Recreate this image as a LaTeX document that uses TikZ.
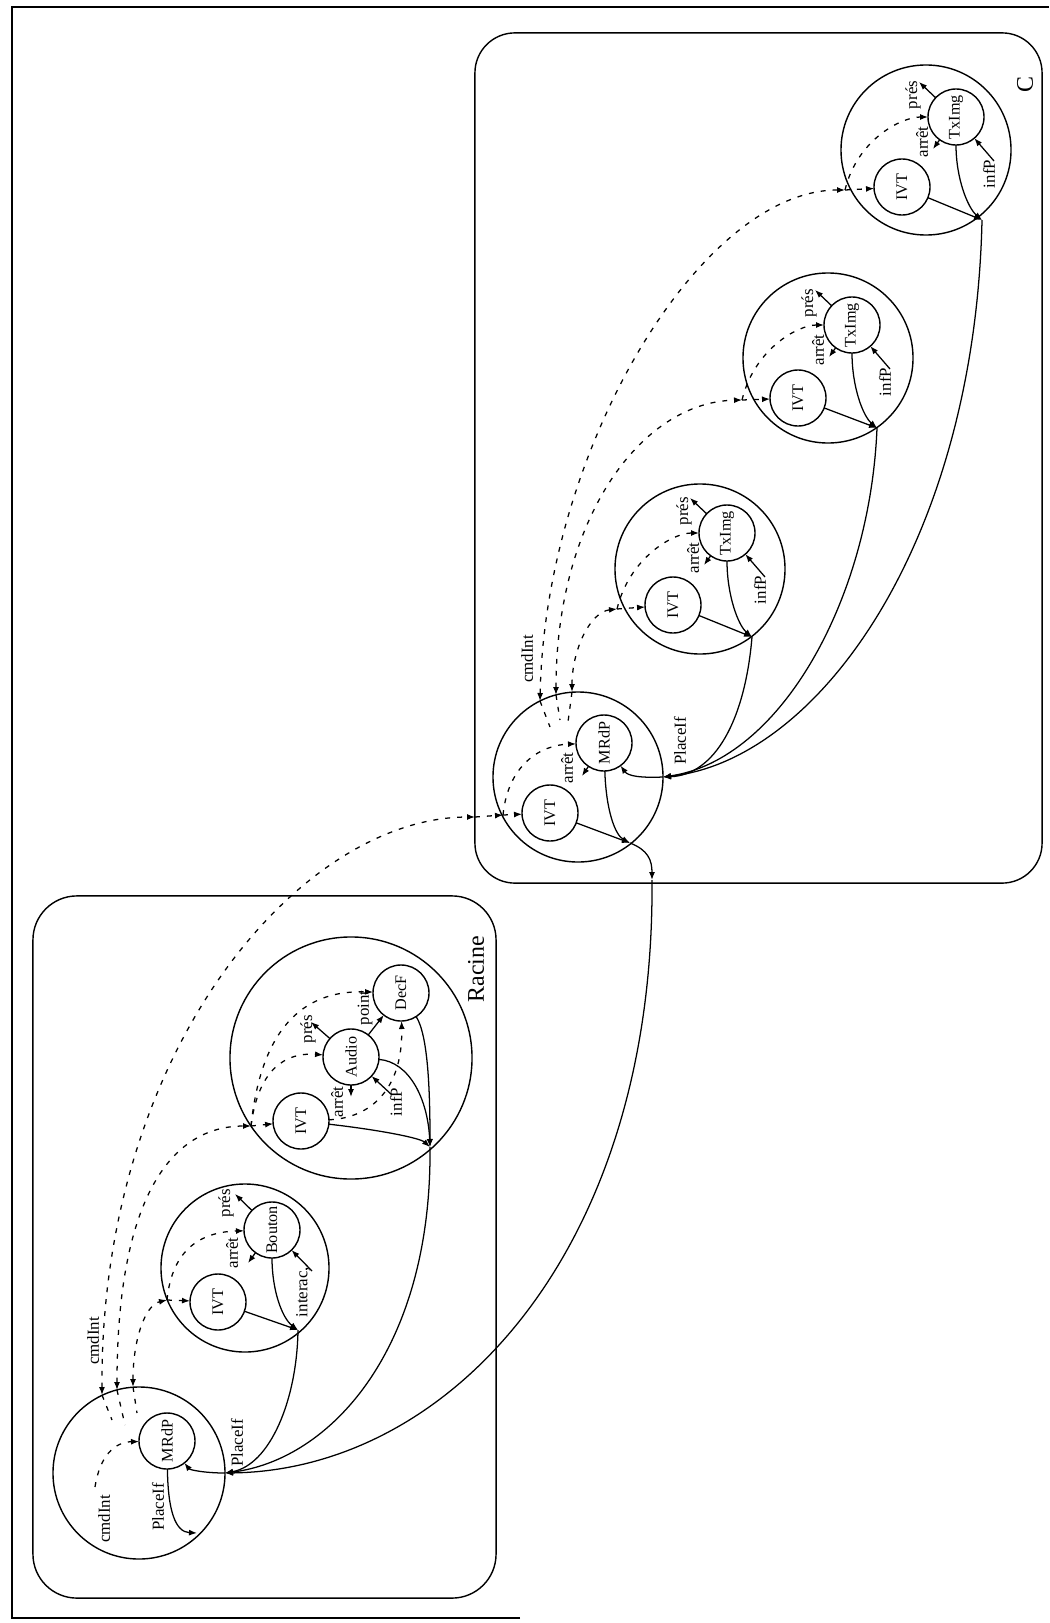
\documentclass[tikz,border=0pt]{standalone}
\usepackage{fontspec}
\setmainfont{Liberation Serif}
\usepackage{tikz}
\usetikzlibrary{arrows.meta, calc}

\newcommand{\vt}[1]{\rotatebox{90}{#1}}

\begin{document}
\begin{tikzpicture}[
    x=0.025cm, y=-0.025cm,
    every node/.style={inner sep=0pt, outer sep=0pt},
    boxc/.style={rectangle, draw, line width=1pt, rounded corners=1.1cm},
    grp/.style={circle, draw, line width=1pt},
    comp/.style={circle, draw, line width=1pt, minimum size=1.4cm, font=\fontsize{11.5}{12}\selectfont},
    lbl/.style={rotate=90, font=\fontsize{12}{13}\selectfont},
    big/.style={rotate=90, font=\fontsize{17}{19}\selectfont},
    arr/.style={-{Latex[length=2mm, width=1.5mm]}, line width=0.9pt},
    dsh/.style={-{Latex[length=2mm, width=1.5mm]}, line width=0.9pt, dash pattern=on 3.5pt off 5pt},
    dline/.style={line width=0.9pt, dash pattern=on 3.5pt off 5pt},
    dbl/.style={arrows={Latex[length=2mm, width=1.5mm]-Latex[length=2mm, width=1.5mm]}, line width=0.9pt, dash pattern=on 3.5pt off 5pt}
]
\path[fill=white] (0,0) rectangle (1049,1623);
\draw[line width=1pt] (520,1618) -- (12,1618) -- (12,7) -- (1049,7);

% the two containers
\node[boxc, minimum width=11.575cm, minimum height=17.55cm] (racine) at (264.5,1247) {};
\node[big] (lracine) at (476,969) {Racine};
\node[boxc, rounded corners=1cm, minimum width=14.175cm, minimum height=21.25cm] (cbox) at (758.5,458) {};
\node[big] (lc) at (1025,85) {C};

% Racine: MRdP
\node[grp, minimum size=4.3cm] (gm) at (139,1473) {};
\node[comp] (m1) at (167,1441) {\vt{MRdP}};
\coordinate (jm) at (225,1473);
\coordinate (pm1) at (133,1387);
\coordinate (pm2) at (117,1390);
\coordinate (pm3) at (102,1395);
\coordinate (qm1) at (137,1413);
\coordinate (qm2) at (125,1425);
\coordinate (qm3) at (112,1420);
\coordinate (cm) at (95,1487);
\coordinate (pl) at (197,1533);
\node[lbl] (lcm1) at (93,1341) {cmdInt};
\node[lbl] (lcm2) at (104,1519) {cmdInt};
\node[lbl] (lpl1) at (158,1507) {PlaceIf};
\node[lbl] (lpl2) at (237,1443) {PlaceIf};

% Racine: Bouton
\node[grp, minimum size=4.2cm] (gb) at (245,1268) {};
\node[comp] (ib) at (218,1302) {\vt{IVT}};
\node[comp] (bt) at (272,1230) {\vt{Bouton}};
\coordinate (jb) at (298,1330);
\coordinate (eb) at (167,1300);
\coordinate (pb) at (235,1194);
\coordinate (sb) at (248,1263);
\coordinate (nb) at (312,1271);
\node[lbl] (lprb) at (226,1203) {prés};
\node[lbl] (larb) at (232,1253) {arrêt};
\node[lbl] (lintb) at (303,1292) {interac,};

% Racine: Audio
\node[grp, minimum size=6.05cm] (ga) at (351,1058) {};
\node[comp] (ia) at (301,1121) {\vt{IVT}};
\node[comp] (au) at (351,1057) {\vt{Audio}};
\node[comp] (df) at (401,993) {\vt{DecF}};
\coordinate (ja) at (430,1147);
\coordinate (ea) at (251,1126);
\coordinate (pa) at (311,1022);
\coordinate (sa) at (351,1097);
\coordinate (na) at (392,1095);
\node[lbl] (lpra) at (308,1029) {prés};
\node[lbl] (lpta) at (365,1008) {point};
\node[lbl] (lara) at (337,1102) {arrêt};
\node[lbl] (linfa) at (396,1102) {infP};

% C: MRdP
\node[grp, minimum size=4.25cm] (gc) at (578,777) {};
\node[comp] (ic) at (550,813) {\vt{IVT}};
\node[comp] (mc) at (604,743) {\vt{MRdP}};
\coordinate (jco) at (630,843);
\coordinate (jci) at (663,777);
\coordinate (cb) at (652,880);
\coordinate (cbx) at (475,817);
\coordinate (ec) at (503,815);
\coordinate (pc1) at (572,692);
\coordinate (pc2) at (556,695);
\coordinate (pc3) at (540,701);
\coordinate (qc1) at (568,722);
\coordinate (qc2) at (560,720);
\coordinate (qc3) at (550,727);
\coordinate (sc) at (582,776);
\node[lbl] (lcmc) at (527,659) {cmdInt};
\node[lbl] (larc) at (567,768) {arrêt};
\node[lbl] (lplc) at (680,741) {PlaceIf};

% C: TxImg 1
\node[grp, minimum size=4.25cm] (g1) at (700,569) {};
\node[comp] (i1) at (673,605) {\vt{IVT}};
\node[comp] (t1) at (727,533) {\vt{TxImg}};
\coordinate (j1) at (752,637);
\coordinate (e1) at (617,609);
\coordinate (p1) at ($(t1)+(-37,-35)$);
\coordinate (s1) at ($(t1)+(-23,32)$);
\coordinate (n1) at ($(t1)+(38,44)$);
\node[lbl] (lpr1) at ($(t1)+(-43,-22)$) {prés};
\node[lbl] (lar1) at ($(t1)+(-34,25)$) {arrêt};
\node[lbl] (lin1) at ($(t1)+(33,57)$) {infP};

% C: TxImg 2
\node[grp, minimum size=4.25cm] (g2) at (828,358) {};
\node[comp] (i2) at (798,398) {\vt{IVT}};
\node[comp] (t2) at (852,325) {\vt{TxImg}};
\coordinate (j2) at (877,428);
\coordinate (e2) at (742,400);
\coordinate (p2) at ($(t2)+(-37,-35)$);
\coordinate (s2) at ($(t2)+(-23,32)$);
\coordinate (n2) at ($(t2)+(38,44)$);
\node[lbl] (lpr2) at ($(t2)+(-43,-22)$) {prés};
\node[lbl] (lar2) at ($(t2)+(-34,25)$) {arrêt};
\node[lbl] (lin2) at ($(t2)+(33,57)$) {infP};

% C: TxImg 3
\node[grp, minimum size=4.25cm] (g3) at (926,150) {};
\node[comp] (i3) at (902,187) {\vt{IVT}};
\node[comp] (t3) at (956,117) {\vt{TxImg}};
\coordinate (j3) at (982,220);
\coordinate (e3) at (845,190);
\coordinate (p3) at ($(t3)+(-37,-35)$);
\coordinate (s3) at ($(t3)+(-23,32)$);
\coordinate (n3) at ($(t3)+(38,44)$);
\node[lbl] (lpr3) at ($(t3)+(-43,-22)$) {prés};
\node[lbl] (lar3) at ($(t3)+(-34,25)$) {arrêt};
\node[lbl] (lin3) at ($(t3)+(33,57)$) {infP};

% cmdInt links
\draw[dbl] (pm1) .. controls (133,1340) and (145,1305) .. (eb);
\draw[dbl] (pm2) .. controls (117,1200) and (170,1126) .. (ea);
\draw[dbl] (pm3) .. controls (100,1050) and (300,817) .. (cbx);
\draw[dline] (pm1) -- (qm1);
\draw[dline] (pm2) -- (qm2);
\draw[dline] (pm3) -- (qm3);
\draw[dsh] (cm) .. controls (100,1455) and (115,1442) .. (m1);
\draw[dbl] (pc1) .. controls (572,650) and (590,612) .. (e1);
\draw[dbl] (pc2) .. controls (556,520) and (640,402) .. (e2);
\draw[dbl] (pc3) .. controls (545,450) and (700,190) .. (e3);
\draw[dline] (pc1) -- (qc1);
\draw[dline] (pc2) -- (qc2);
\draw[dline] (pc3) -- (qc3);

% PlaceIf links
\draw[arr] (m1) .. controls (168,1510) and (175,1532) .. (pl);
\draw[arr] (jm) .. controls (205,1473) and (190,1470) .. (m1);
\draw[arr] (jb) .. controls (297,1400) and (270,1465) .. (jm);
\draw[arr] (ja) .. controls (432,1350) and (330,1460) .. (jm);
\draw[arr] (jco) .. controls (648,850) and (652,860) .. (cb);
\draw[arr] (cb) .. controls (655,1250) and (450,1470) .. (jm);
\draw[arr] (j1) .. controls (745,720) and (715,775) .. (jci);
\draw[arr] (j2) .. controls (870,600) and (780,760) .. (jci);
\draw[arr] (j3) .. controls (975,540) and (820,760) .. (jci);
\draw[arr] (jci) .. controls (640,778) and (628,776) .. (mc);

% inside Bouton
\draw[dsh] (eb) -- (ib);
\draw[dsh] (eb) .. controls (172,1250) and (200,1232) .. (bt);
\draw[arr] (bt) -- (pb);
\draw[arr] (bt) -- (sb);
\draw[arr] (nb) -- (bt);
\draw[arr] (ib) -- (jb);
\draw[arr] (bt) .. controls (272,1290) and (282,1318) .. (jb);

% inside Audio
\draw[dsh] (ea) -- (ia);
\draw[dsh] (ea) .. controls (258,1070) and (285,1052) .. (au);
\draw[dsh] (ea) .. controls (262,1020) and (310,990) .. (df);
\draw[dsh] (ia) .. controls (370,1118) and (403,1090) .. (df);
\draw[arr] (au) -- (pa);
\draw[arr] (au) -- (sa);
\draw[arr] (na) -- (au);
\draw[arr] (au) -- (df);
\draw[arr] (ia) .. controls (380,1130) and (420,1138) .. (ja);
\draw[arr] (au) .. controls (410,1062) and (428,1100) .. (ja);
\draw[arr] (df) .. controls (428,1035) and (430,1090) .. (ja);

% inside C MRdP
\draw[dsh] (cbx) -- (ec);
\draw[dsh] (ec) -- (ic);
\draw[dsh] (ec) .. controls (508,765) and (540,745) .. (mc);
\draw[arr] (mc) -- (sc);
\draw[arr] (ic) -- (jco);
\draw[arr] (mc) .. controls (606,810) and (615,835) .. (jco);

% inside TxImg 1
\draw[dsh] (e1) -- (i1);
\draw[dsh] (e1) .. controls ($(e1)+(12,-50)$) and ($(t1)+(-55,0)$) .. (t1);
\draw[arr] (t1) -- (p1);
\draw[arr] (t1) -- (s1);
\draw[arr] (n1) -- (t1);
\draw[arr] (i1) -- (j1);
\draw[arr] (t1) .. controls ($(t1)+(0,62)$) and ($(j1)+(-14,-12)$) .. (j1);

% inside TxImg 2
\draw[dsh] (e2) -- (i2);
\draw[dsh] (e2) .. controls ($(e2)+(12,-50)$) and ($(t2)+(-55,0)$) .. (t2);
\draw[arr] (t2) -- (p2);
\draw[arr] (t2) -- (s2);
\draw[arr] (n2) -- (t2);
\draw[arr] (i2) -- (j2);
\draw[arr] (t2) .. controls ($(t2)+(0,62)$) and ($(j2)+(-14,-12)$) .. (j2);

% inside TxImg 3
\draw[dsh] (e3) -- (i3);
\draw[dsh] (e3) .. controls ($(e3)+(12,-50)$) and ($(t3)+(-55,0)$) .. (t3);
\draw[arr] (t3) -- (p3);
\draw[arr] (t3) -- (s3);
\draw[arr] (n3) -- (t3);
\draw[arr] (i3) -- (j3);
\draw[arr] (t3) .. controls ($(t3)+(0,62)$) and ($(j3)+(-14,-12)$) .. (j3);
\end{tikzpicture}
\end{document}
